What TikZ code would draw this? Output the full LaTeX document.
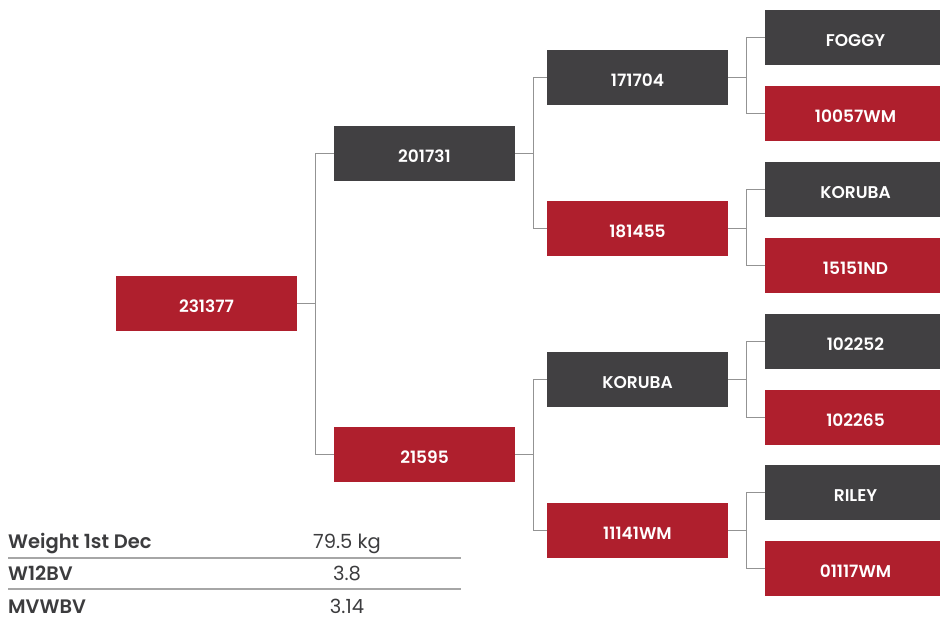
\documentclass[tikz,border=0pt]{standalone}
\usepackage{fontspec}
\setmainfont{Poppins}
\newfontfamily\semifont{Poppins SemiBold}
\definecolor{bullred}{HTML}{AF1F2D}
\definecolor{bulldark}{HTML}{414042}
\definecolor{tabtext}{HTML}{3C3C3E}
\tikzset{
	box/.style={rectangle,minimum width=181pt,minimum height=55pt,inner sep=0pt,text height=17.5pt,text depth=0pt,text=white,font=\fontsize{17}{20}\semifont},
	link/.style={draw=gray!85,line width=1pt},
	tabrule/.style={draw=gray!70,line width=1.2pt}
}
\begin{document}
\begin{tikzpicture}[x=1pt,y=-1pt]
	\useasboundingbox (0,0) rectangle (940,616);
	\clip (0,0) rectangle (940,616);
	% generations 0 and 1
	\node[box,fill=bullred] (g0) at (206.5,303.5) {231377};
	\node[box,fill=bulldark] (s1) at (424.5,153.5) {201731};
	\node[box,fill=bullred] (d1) at (424.5,454.5) {21595};
	% generation 2
	\foreach \name/\txt/\y/\col in {ss2/171704/77.5/bulldark,sd2/181455/228.5/bullred,ds2/KORUBA/379.5/bulldark,dd2/11141WM/530.5/bullred}{
		\node[box,fill=\col] (\name) at (637.5,\y) {\txt};
	}
	% generation 3
	\foreach \name/\txt/\y/\col in {sss3/FOGGY/37.5/bulldark,ssd3/10057WM/113.5/bullred,sds3/KORUBA/189.5/bulldark,sdd3/15151ND/265.5/bullred,dss3/102252/341.5/bulldark,dsd3/102265/417.5/bullred,dds3/RILEY/492.5/bulldark,ddd3/01117WM/568.5/bullred}{
		\node[box,fill=\col] (\name) at (855.5,\y) {\txt};
	}
	% brackets
	\foreach \p/\a/\b in {g0/s1/d1,s1/ss2/sd2,d1/ds2/dd2,ss2/sss3/ssd3,sd2/sds3/sdd3,ds2/dss3/dsd3,dd2/dds3/ddd3}{
		\draw[link] (\p.east) -- ++(18,0) |- (\a.west);
		\draw[link] (\p.east) -- ++(18,0) |- (\b.west);
	}
	% table
	\foreach \name/\lab/\val/\y in {wt/Weight 1st Dec/79.5 kg/548,wb/W12BV/3.8/580,mv/MVWBV/3.14/613}{
		\node[anchor=base west,inner sep=0pt,text=tabtext,font=\fontsize{19.5}{22}\semifont] (\name l) at (8,\y) {\lab};
		\node[anchor=base,inner sep=0pt,text=tabtext,font=\fontsize{19.5}{22}\selectfont] (\name v) at (347,\y) {\val};
	}
	\draw[tabrule] (8,558) -- (461,558);
	\draw[tabrule] (8,589) -- (461,589);
\end{tikzpicture}
\end{document}
